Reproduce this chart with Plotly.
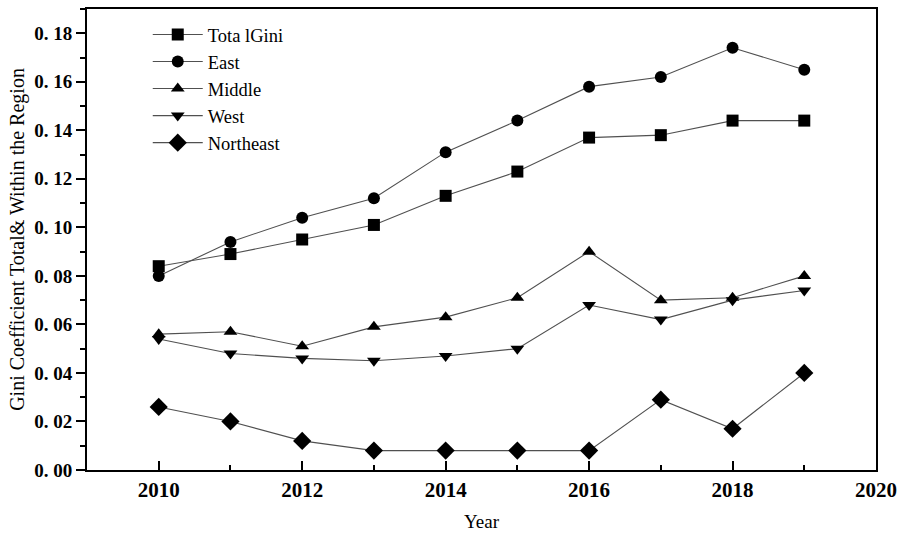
import plotly.graph_objects as go

years = [2010, 2011, 2012, 2013, 2014, 2015, 2016, 2017, 2018, 2019]
total_gini = [0.084, 0.089, 0.095, 0.101, 0.113, 0.123, 0.137, 0.138, 0.144, 0.144]
east = [0.080, 0.094, 0.104, 0.112, 0.131, 0.144, 0.158, 0.162, 0.174, 0.165]
middle = [0.056, 0.057, 0.051, 0.059, 0.063, 0.071, 0.090, 0.070, 0.071, 0.080]
west = [0.054, 0.048, 0.046, 0.045, 0.047, 0.050, 0.068, 0.062, 0.070, 0.074]
northeast = [0.026, 0.020, 0.012, 0.008, 0.008, 0.008, 0.008, 0.029, 0.017, 0.040]

series_names = ["Tota lGini", "East", "Middle", "West", "Northeast"]
series_values = [total_gini, east, middle, west, northeast]
series_symbols = ["square", "circle", "triangle-up", "triangle-down", "diamond"]

x_ticks = [2010, 2012, 2014, 2016, 2018, 2020]
y_ticks = [0.00, 0.02, 0.04, 0.06, 0.08, 0.10, 0.12, 0.14, 0.16, 0.18]
y_tick_text = ["0. 00", "0. 02", "0. 04", "0. 06", "0. 08",
               "0. 10", "0. 12", "0. 14", "0. 16", "0. 18"]

SERIF = "Liberation Serif"

fig = go.Figure()
for name, vals, sym in zip(series_names, series_values, series_symbols):
    fig.add_trace(go.Scatter(
        x=years, y=vals, name=name, mode="lines+markers",
        line=dict(color="#505050", width=1.1),
        marker=dict(symbol=sym, size=12 if sym != "diamond" else 14,
                    color="black", line=dict(width=0)),
    ))

fig.update_layout(
    width=904, height=536,
    margin=dict(l=87, r=26, t=7, b=65),
    plot_bgcolor="white", paper_bgcolor="white",
    font=dict(family=SERIF, color="black"),
    showlegend=True,
    legend=dict(
        x=0.077, y=0.985, xanchor="left", yanchor="top",
        bgcolor="rgba(0,0,0,0)", borderwidth=0,
        font=dict(family=SERIF, size=18.5, color="black"),
        tracegroupgap=0, itemwidth=50,
    ),
    xaxis=dict(
        range=[2009, 2020], tickvals=x_ticks, ticks="inside", ticklen=9,
        tickwidth=1.5, tickcolor="black",
        minor=dict(dtick=1, tick0=2009, ticks="inside", ticklen=5, tickwidth=1.5,
                   tickcolor="black", showgrid=False),
        showline=True, linecolor="black", linewidth=2, mirror=True,
        showgrid=False, zeroline=False,
        tickfont=dict(family=SERIF, size=21, color="black", weight="bold"),
        title=dict(text="Year", font=dict(family=SERIF, size=19, color="black"),
                   standoff=13),
    ),
    yaxis=dict(
        range=[0, 0.19], tickvals=y_ticks, ticktext=y_tick_text,
        ticks="outside", ticklen=9, tickwidth=1.5, tickcolor="black",
        minor=dict(dtick=0.01, tick0=0, ticks="outside", ticklen=5, tickwidth=1.5,
                   tickcolor="black", showgrid=False),
        showline=True, linecolor="black", linewidth=2, mirror=True,
        showgrid=False, zeroline=False,
        tickfont=dict(family=SERIF, size=19, color="black", weight="bold"),
        title=dict(text="Gini Coefficient Total&amp; Within the Region",
                   font=dict(family=SERIF, size=20, color="black"), standoff=4),
    ),
)

fig.write_html("out.html")
